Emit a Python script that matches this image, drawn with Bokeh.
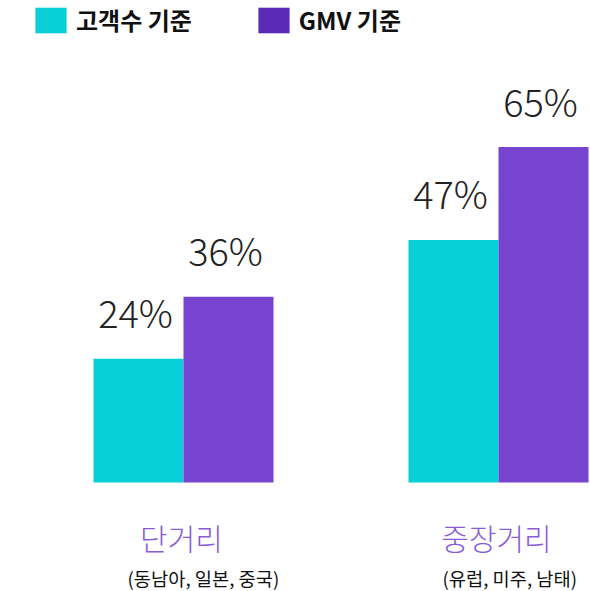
from bokeh.plotting import figure
from bokeh.models import ColumnDataSource, Range1d, Legend, LegendItem
from bokeh.core.properties import value
from bokeh.embed import file_html
from bokeh.resources import INLINE

# ---- data ----
categories = ["단거리", "중장거리"]
regions = ["(동남아, 일본, 중국)", "(유럽, 미주, 남태)"]
customers = [24, 47]          # 고객수 기준 (%)
gmv = [36, 65]                # GMV 기준 (%)
series_names = ["고객수 기준", "GMV 기준"]

# ---- styles ----
CYAN = "#09d0d8"
PURPLE = "#7744cf"
PURPLE_LEGEND = "#5b2bb5"
CAT_COLOR = "#8a5cd6"
FONT = "Noto Sans CJK KR"
FONT_LIGHT = "Noto Sans CJK KR Light"

W, H = 590, 591
GROUP_PX = 315       # pixels between category centres
FIRST_PX = 183       # pixel of first category centre
BASE_PX = 482        # pixel of the zero line
PX_PER_PCT = 5.16

idx = list(range(len(categories)))
dodge = 45 / GROUP_PX
bar_w = 90 / GROUP_PX

src = ColumnDataSource(dict(
    x=idx,
    x_c=[i - dodge for i in idx],
    x_g=[i + dodge for i in idx],
    cust=customers,
    gmv=gmv,
    cust_lbl=[f"{v}%" for v in customers],
    gmv_lbl=[f"{v}%" for v in gmv],
    cat=categories,
    reg=regions,
    zero=[0] * len(categories),
))

p = figure(width=W, height=H,
           x_range=Range1d(-FIRST_PX / GROUP_PX, (W - FIRST_PX) / GROUP_PX),
           y_range=Range1d(-(H - BASE_PX) / PX_PER_PCT, BASE_PX / PX_PER_PCT),
           output_backend="svg", toolbar_location=None,
           x_axis_location=None, y_axis_location=None,
           min_border=0)
p.grid.visible = False
p.outline_line_color = None

r_c = p.vbar(x="x_c", top="cust", width=bar_w, source=src, fill_color=CYAN, line_color=None)
r_g = p.vbar(x="x_g", top="gmv", width=bar_w, source=src, fill_color=PURPLE, line_color=None)

lbl_kw = dict(text_font=value(FONT_LIGHT), text_font_size="38px", text_color="#222222",
              text_align="center", text_baseline="alphabetic", y_offset=-47, x_offset=-3)
p.text(x="x_c", y="cust", text="cust_lbl", source=src, **lbl_kw)
p.text(x="x_g", y="gmv", text="gmv_lbl", source=src, **lbl_kw)

p.text(x="x", y="zero", text="cat", source=src, text_font=value(FONT_LIGHT),
       text_font_size="30px", text_color=CAT_COLOR, text_align="center",
       text_baseline="alphabetic", y_offset=54, x_offset=-2)
p.text(x="x", y="zero", text="reg", source=src, text_font=value(FONT),
       text_font_size="18.7px", text_color="#111111", text_align="left",
       text_baseline="alphabetic", y_offset=95, x_offset=-56)

# legend proxy for the darker legend swatch (hidden renderer)
r_leg = p.vbar(x="x_g", top="gmv", width=bar_w, source=src, fill_color=PURPLE_LEGEND,
               line_color=None, visible=False)

legend = Legend(items=[LegendItem(label=series_names[0], renderers=[r_c]),
                       LegendItem(label=series_names[1], renderers=[r_leg])],
                location=(31, 554), orientation="horizontal",
                glyph_width=39, glyph_height=32, label_standoff=6, spacing=62,
                padding=0, margin=0, border_line_color=None, background_fill_alpha=0,
                label_text_font=FONT, label_text_font_style="bold",
                label_text_font_size="24px", label_text_color="#111111")
p.add_layout(legend)

open("out.html", "w").write(file_html(p, INLINE))
